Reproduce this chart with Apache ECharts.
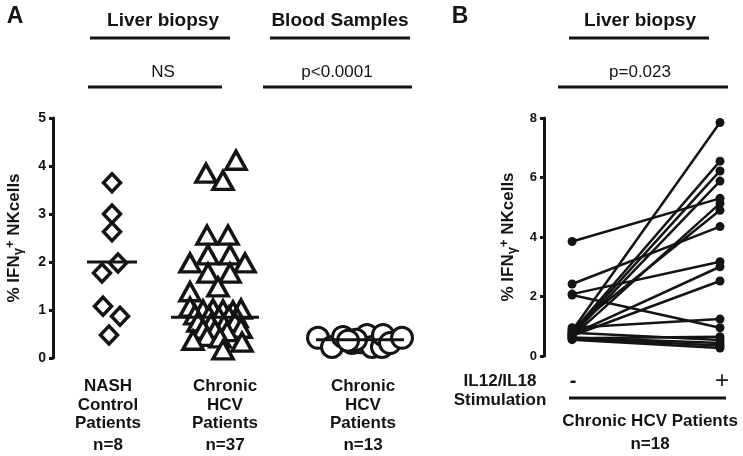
<!DOCTYPE html>
<html><head><meta charset="utf-8">
<script src="https://cdn.jsdelivr.net/npm/echarts@6/dist/echarts.min.js"></script>
<style>html,body{margin:0;padding:0;background:#fff}#c{width:743px;height:456px}</style>
</head><body><div id="c"></div>
<script>
// ---------- Panel A data ----------
const groupLabels = ['NASH\nControl\nPatients', 'Chronic\nHCV\nPatients', 'Chronic\nHCV\nPatients'];
const groupCenters = [59, 162, 307];           // x position of each group on the hidden x scale
const medians = [2.0, 0.85, 0.38];

const nashValues = [3.65, 3.0, 2.63, 1.98, 1.77, 1.08, 0.87, 0.48];
const nashJitter = [0, 0, 0, 6, -10, -9, 8, -3];

const hcvLiverValues = [4.12, 3.85, 3.7, 2.56, 2.56, 2.15, 2.15, 1.98, 1.98, 1.77, 1.77, 1.48, 1.38,
  1.06, 1.0, 1.02, 1.0, 0.98, 1.02, 0.9, 0.88, 0.85, 0.87, 0.84,
  0.75, 0.72, 0.7, 0.74, 0.62, 0.6, 0.58, 0.55, 0.45, 0.42, 0.37, 0.33, 0.17];
const hcvLiverJitter = [21, -9, 8, -8, 13, -7, 15, -25, 30, -7, 15, 3, -25,
  -25, -12, -2, 8, 18, 26, -20, -6, 4, 14, 22,
  -17, -4, 9, 20, 26, -12, 0, 12, -8, 5, -22, 27, 8];

const hcvBloodValues = [0.42, 0.23, 0.44, 0.31, 0.33, 0.48, 0.23, 0.23, 0.48, 0.31, 0.42, 0.38, 0.36];
const hcvBloodJitter = [-42, -28, -17, -8, 0, 7, 12, 22, 23, 30, 42, -4, -12];

// ---------- Panel B data ----------
const stimCategories = ['-', '+'];
const preStim  = [3.85, 2.42, 2.08, 2.05, 0.85, 0.8, 0.75, 0.7, 0.65, 0.9, 0.72, 0.68, 0.95, 0.6, 0.78, 0.62, 0.55, 0.58];
const postStim = [5.3, 4.35, 3.17, 0.95, 7.85, 6.55, 6.22, 5.88, 5.13, 4.9, 3.0, 2.52, 1.24, 0.65, 0.54, 0.44, 0.27, 0.35];

const yTicksA = [0, 1, 2, 3, 4, 5];
const yTicksB = [0, 2, 4, 6, 8];

const INK = '#141414';
const FONT = '"Liberation Sans", Arial, sans-serif';

function pts(vals, jit, g) { return vals.map((v, i) => [groupCenters[g] + jit[i], v]); }

const yName = '{a|% IFN}{s|γ}{p|+}{a| NKcells}';
const yNameStyle = {
  fontFamily: FONT, fontWeight: 'bold', fontSize: 17, color: INK,
  rich: {
    a: { fontFamily: FONT, fontWeight: 'bold', fontSize: 17, color: INK },
    s: { fontFamily: FONT, fontSize: 13, color: INK, padding: [8, 0, 0, 0] },
    p: { fontFamily: FONT, fontWeight: 'bold', fontSize: 13, color: INK, padding: [0, 0, 8, 0] }
  }
};

function yAxisCommon(max, interval, ticks, fs) {
  return {
    type: 'value', min: ticks[0], max: max, interval: interval,
    axisLine: { show: true, onZero: false, lineStyle: { color: INK, width: 3 } },
    axisTick: { show: true, length: 4, lineStyle: { color: INK, width: 3 } },
    axisLabel: { color: INK, fontWeight: 'bold', fontSize: fs, fontFamily: FONT, margin: 7 },
    splitLine: { show: false },
    name: yName, nameLocation: 'middle', nameGap: 28, nameRotate: 90, nameTextStyle: yNameStyle
  };
}

const hollow = { color: '#fff', borderColor: INK, borderWidth: 3.5, opacity: 1 };
const HW = [25, 44, 44];

const series = [
  { type: 'scatter', xAxisIndex: 0, yAxisIndex: 0, symbol: 'diamond', symbolSize: [17, 18],
    itemStyle: hollow, data: pts(nashValues, nashJitter, 0), z: 2 },
  { type: 'scatter', xAxisIndex: 0, yAxisIndex: 0, symbol: 'triangle', symbolSize: [20, 18],
    itemStyle: hollow, data: pts(hcvLiverValues, hcvLiverJitter, 1), z: 2 },
  { type: 'scatter', xAxisIndex: 0, yAxisIndex: 0, symbol: 'circle', symbolSize: 21,
    itemStyle: Object.assign({}, hollow, { borderWidth: 3 }), data: pts(hcvBloodValues, hcvBloodJitter, 2), z: 2 }
];
medians.forEach((m, g) => {
  series.push({ type: 'line', xAxisIndex: 0, yAxisIndex: 0, symbol: 'none', z: 5, silent: true,
    lineStyle: { color: INK, width: 3 },
    data: [[groupCenters[g] - HW[g], m], [groupCenters[g] + HW[g], m]] });
});
preStim.forEach((p, i) => {
  series.push({ type: 'line', xAxisIndex: 1, yAxisIndex: 1, symbol: 'circle', symbolSize: 9,
    lineStyle: { color: INK, width: 2.5 }, itemStyle: { color: INK, opacity: 1 },
    data: [[0, p], [1, postStim[i]]] });
});

const chart = echarts.init(document.getElementById('c'), null, { renderer: 'canvas' });
chart.setOption({
  backgroundColor: '#fff',
  animation: false,
  grid: [
    { left: 53, top: 118, width: 367, height: 240 },
    { left: 544, top: 118, width: 176, height: 238 }
  ],
  xAxis: [
    { type: 'value', gridIndex: 0, min: 0, max: 367, show: false },
    { type: 'value', gridIndex: 1, min: -0.19, max: 1, show: false }
  ],
  yAxis: [
    Object.assign(yAxisCommon(5, 1, yTicksA, 14), { gridIndex: 0 }),
    Object.assign(yAxisCommon(8, 2, yTicksB, 13), { gridIndex: 1, nameGap: 25 })
  ],
  series: series
});

// ---------- annotations ----------
function txt(x, y, s, size, bold, align) {
  return { type: 'text', x: x, y: y, style: { text: s, fill: INK, font: (bold ? 'bold ' : '') + size + 'px ' + FONT,
    textAlign: align || 'center', textVerticalAlign: 'middle', lineHeight: 18.5 } };
}
function hl(x1, x2, y) {
  return { type: 'line', shape: { x1: x1, y1: y, x2: x2, y2: y }, style: { stroke: INK, lineWidth: 3 } };
}
const g = [];
g.push(txt(15, 17, 'A', 23, true));
g.push(txt(460, 17, 'B', 23, true));
g.push(txt(163, 21, 'Liver biopsy', 19, true)); g.push(hl(90, 230, 38));
g.push(txt(340, 21, 'Blood Samples', 19, true)); g.push(hl(270, 410, 38));
g.push(txt(163, 72, 'NS', 17, false)); g.push(hl(88, 222, 87));
g.push(txt(337, 72, 'p<0.0001', 17, false)); g.push(hl(263, 412, 87));
g.push(txt(640, 21, 'Liver biopsy', 19, true)); g.push(hl(569, 709, 38));
g.push(txt(640, 72, 'p=0.023', 17, false)); g.push(hl(558, 728, 87));

const counts = [nashValues.length, hcvLiverValues.length, hcvBloodValues.length];
const labelX = [108, 225, 363];
groupLabels.forEach((lab, i) => {
  g.push(txt(labelX[i], 405, lab, 17, true));
  g.push(txt(labelX[i], 445, 'n=' + counts[i], 17, true));
});
const pMinus = chart.convertToPixel({ xAxisIndex: 1, yAxisIndex: 1 }, [0, 0]);
const pPlus = chart.convertToPixel({ xAxisIndex: 1, yAxisIndex: 1 }, [1, 0]);
g.push(txt(pMinus[0] + 1, 381, stimCategories[0], 20, true));
g.push(txt(pPlus[0] + 2, 381, stimCategories[1], 24, false));
g.push(hl(569, 726, 398));
g.push(txt(500, 391, 'IL12/IL18\nStimulation', 17, true));
g.push(txt(650, 421, 'Chronic HCV Patients', 17, true));
g.push(txt(650, 444, 'n=' + preStim.length, 17, true));
chart.setOption({ graphic: g });
</script>
</body></html>
